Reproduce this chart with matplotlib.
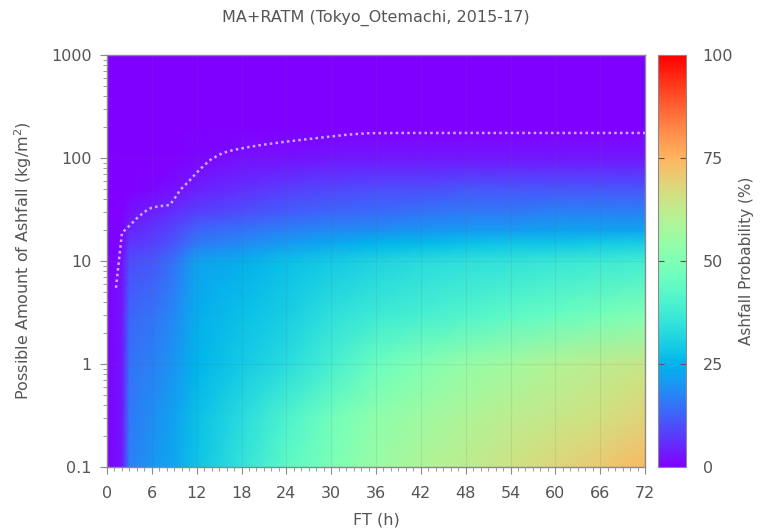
import numpy as np
import matplotlib
matplotlib.use("Agg")
import matplotlib.pyplot as plt
from matplotlib.ticker import FixedLocator, FixedFormatter, MultipleLocator, LogLocator, NullFormatter

plt.rcParams['font.family'] = ['DejaVu Sans']

# forecast time (h) and ashfall amount (kg/m2) of the probability grid
ft = [0, 2, 3, 6, 9, 12, 18, 24, 30, 36, 42, 48, 54, 60, 66, 72]
amount = [0.1, 0.3, 1, 3, 10, 15, 20, 30, 50, 100, 200, 1000]

# probability (%) per amount row, one value per ft column
p_0_1 = [0, 3, 17, 20, 23, 28, 35, 43, 49, 55, 59, 62, 65, 68, 71, 74]
p_0_3 = [0, 3, 16, 19, 22, 27, 33, 40, 47, 53, 56, 59, 62, 64, 66, 69]
p_1 = [0, 3, 15, 17, 20, 25, 29, 33, 39, 46, 50, 54, 57, 60, 62, 64]
p_3 = [0, 3, 13, 15, 18, 24, 27, 30, 34, 37, 39, 41, 43, 45, 48, 50]
p_10 = [0, 2, 10, 11, 15, 22, 24, 27, 29, 31, 33, 34, 35, 36, 37, 38]
p_15 = [0, 1, 7, 8, 11, 16, 18, 21, 23, 25, 26, 27, 28, 28, 29, 30]
p_20 = [0, 1, 5, 7, 9, 13, 15, 17, 18, 19, 20, 21, 21, 22, 22, 22]
p_30 = [0, 0, 2, 4, 6, 8, 10, 12, 13, 14, 15, 16, 16, 17, 17, 17]
p_50 = [0, 0, 0, 1, 2, 4, 6, 8, 9, 10, 10, 11, 11, 11, 11, 11]
p_100 = [0, 0, 0, 0, 0, 1, 2, 2, 3, 3, 3, 3, 3, 3, 3, 3]
p_200 = [0, 0, 0, 0, 0, 0, 0, 0, 0, 0, 0, 0, 0, 0, 0, 0]
p_1000 = [0, 0, 0, 0, 0, 0, 0, 0, 0, 0, 0, 0, 0, 0, 0, 0]

# possible (max) amount curve
line_ft = [1.2, 2, 3, 4, 5, 6, 7, 8.4, 9, 9.8, 11, 12, 13, 14, 15.5, 17, 19, 21,
           23.6, 26, 29.4, 32, 34.8, 40, 48, 56, 64, 72]
line_amt = [5.5, 18.7, 22, 26, 30, 33, 34, 35, 40, 49, 60, 72, 85, 98, 112, 120,
            128, 135, 143, 150, 160, 168, 174, 175, 175, 175, 175, 175]

prob = np.array([p_0_1, p_0_3, p_1, p_3, p_10, p_15, p_20, p_30, p_50, p_100, p_200, p_1000])

gray = '#555555'
fs = 11.5
fig = plt.figure(figsize=(7.6, 5.32), dpi=100)
ax = fig.add_axes([0.1408, 0.1222, 0.7079, 0.7744])
cax = fig.add_axes([0.8658, 0.1222, 0.0368, 0.7744])

mesh = ax.pcolormesh(ft, amount, prob, cmap='rainbow', vmin=0, vmax=100,
                     shading='gouraud', rasterized=True)
ax.plot(line_ft, line_amt, color='#f4dcff', ls=(0, (1, 1.3)), lw=1.8, alpha=0.75)

ax.set_yscale('log')
ax.set_xlim(0, 72)
ax.set_ylim(0.1, 1000)
ax.xaxis.set_major_locator(MultipleLocator(6))
ax.xaxis.set_minor_locator(MultipleLocator(1))
ax.yaxis.set_major_locator(FixedLocator([0.1, 1, 10, 100, 1000]))
ax.yaxis.set_major_formatter(FixedFormatter(['0.1', '1', '10', '100', '1000']))
ax.yaxis.set_minor_locator(LogLocator(base=10, subs=np.arange(2, 10)))
ax.yaxis.set_minor_formatter(NullFormatter())
ax.grid(True, which='major', color='#666666', alpha=0.12, lw=0.8)

for a in (ax, cax):
    for s in a.spines.values():
        s.set_color('#8a8a8a')
        s.set_linewidth(1.0)
ax.tick_params(which='both', colors='#8a8a8a', labelcolor=gray, labelsize=fs, direction='out')
ax.tick_params(which='major', length=5)
ax.tick_params(which='minor', length=3)
ax.tick_params(axis='x', pad=9)
ax.tick_params(axis='y', pad=6)

ax.set_xlabel('FT (h)', color=gray, fontsize=fs, labelpad=8)
ax.set_ylabel('Possible Amount of Ashfall (kg/m$^2$)', color=gray, fontsize=fs, labelpad=12)
ax.set_title('MA+RATM (Tokyo_Otemachi, 2015-17)', color=gray, fontsize=fs, pad=24)

cb = fig.colorbar(mesh, cax=cax, ticks=[0, 25, 50, 75, 100])
cb.outline.set_edgecolor('#8a8a8a')
cax.tick_params(direction='in', length=4, left=True, right=True, colors='#555555',
                labelcolor=gray, labelsize=fs, pad=12)
cb.set_label('Ashfall Probability (%)', color=gray, fontsize=11, labelpad=4)

fig.savefig('out.png', dpi=100)
